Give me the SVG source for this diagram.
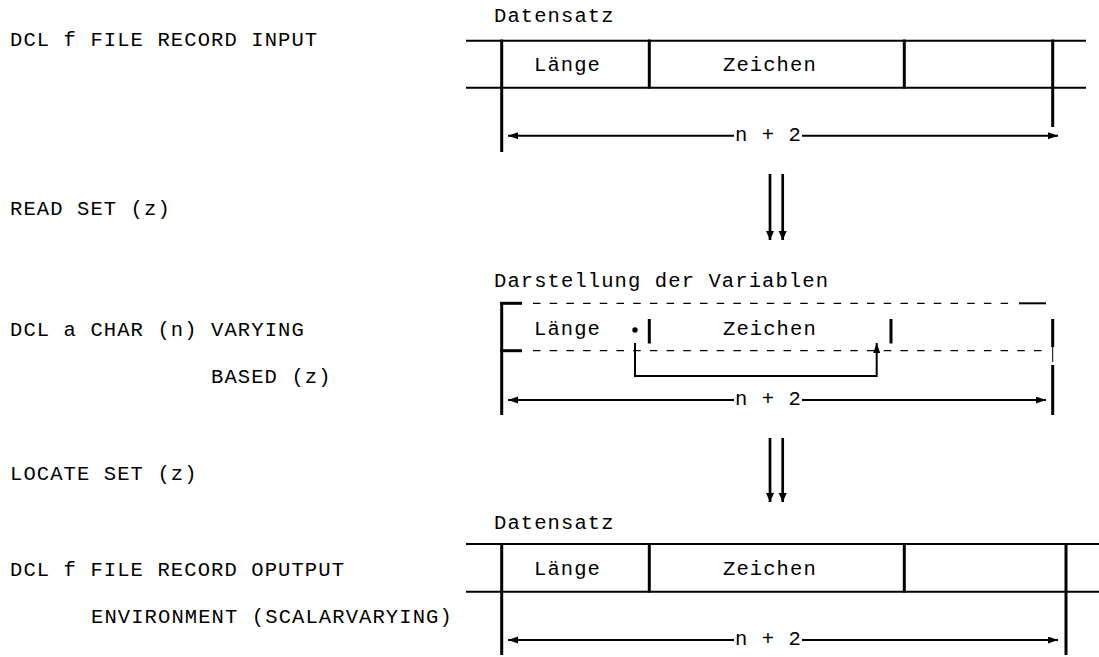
<svg xmlns="http://www.w3.org/2000/svg" width="1099" height="657" viewBox="0 0 1099 657">
<defs>
<style>
text{font-family:"Liberation Mono","Courier New",monospace;font-size:20.5px;letter-spacing:1.1px;fill:#000}
.ln{stroke:#000;stroke-width:2;fill:none}
.vb{stroke:#000;stroke-width:3;fill:none}
.ds{stroke:#000;stroke-width:1.3;fill:none;stroke-dasharray:7.5 9.2}
.ar{stroke:#000;stroke-width:2;fill:none}
.da{stroke:#000;stroke-width:2.7;fill:none}
</style>
<marker id="ah" markerUnits="userSpaceOnUse" markerWidth="11" markerHeight="8" refX="10" refY="3.5" orient="auto-start-reverse">
<path d="M0,0 L10,3.5 L0,7 Z" fill="#000"/>
</marker>
<marker id="dh" markerUnits="userSpaceOnUse" markerWidth="10" markerHeight="10" refX="9" refY="4" orient="auto">
<path d="M0,0 L9,4 L0,8 Z" fill="#000"/>
</marker>
</defs>
<rect width="1099" height="657" fill="#fff"/>

<g id="code">
<text x="10" y="46">DCL f FILE RECORD INPUT</text>
<text x="10" y="215">READ SET (z)</text>
<text x="10" y="336">DCL a CHAR (n) VARYING</text>
<text x="211" y="383">BASED (z)</text>
<text x="10" y="480">LOCATE SET (z)</text>
<text x="10" y="576">DCL f FILE RECORD OPUTPUT</text>
<text x="91" y="623">ENVIRONMENT (SCALARVARYING)</text>
</g>

<g id="record-input">
<text x="494" y="22">Datensatz</text>
<line class="ln" x1="466" y1="40.7" x2="1086" y2="40.7"/>
<line class="ln" x1="466" y1="87.7" x2="1086" y2="87.7"/>
<line class="vb" x1="501.7" y1="39.5" x2="501.7" y2="152"/>
<line class="vb" x1="649.3" y1="39.5" x2="649.3" y2="88.5"/>
<line class="vb" x1="904.3" y1="39.5" x2="904.3" y2="88.5"/>
<line class="vb" x1="1052.7" y1="39.5" x2="1052.7" y2="127"/>
<text x="534" y="71">Länge</text>
<text x="723" y="71">Zeichen</text>
<text x="735" y="140.5">n + 2</text>
</g>

<g id="variable">
<text x="494" y="287">Darstellung der Variablen</text>
<line class="vb" x1="501.7" y1="302" x2="501.7" y2="415"/>
<line class="vb" x1="500.2" y1="303.3" x2="522" y2="303.3"/>
<line class="vb" x1="500.2" y1="350.7" x2="522" y2="350.7"/>
<line class="ds" x1="533" y1="303.3" x2="1014" y2="303.3"/>
<line class="ln" x1="1019" y1="303.3" x2="1046" y2="303.3"/>
<line class="ds" x1="533" y1="350.7" x2="1050" y2="350.7"/>
<text x="534" y="335">Länge</text>
<circle cx="635" cy="330" r="2.7" fill="#000"/>
<line class="vb" x1="649.3" y1="319" x2="649.3" y2="343.5"/>
<text x="723" y="335">Zeichen</text>
<line class="vb" x1="891" y1="319" x2="891" y2="343.5"/>
<line class="vb" x1="1052.7" y1="319" x2="1052.7" y2="347"/>
<line stroke="#000" stroke-width="1" x1="1052.7" y1="347" x2="1052.7" y2="362"/>
<line class="vb" x1="1052.7" y1="365" x2="1052.7" y2="415"/>
<text x="735" y="404.7">n + 2</text>
</g>

<g id="record-output">
<text x="494" y="528.5">Datensatz</text>
<line class="ln" x1="466" y1="544" x2="1099" y2="544"/>
<line class="ln" x1="466" y1="591.7" x2="1099" y2="591.7"/>
<line class="vb" x1="501.7" y1="543" x2="501.7" y2="655"/>
<line class="vb" x1="649.3" y1="543" x2="649.3" y2="592.5"/>
<line class="vb" x1="904.3" y1="543" x2="904.3" y2="592.5"/>
<line class="vb" x1="1066" y1="543" x2="1066" y2="655"/>
<text x="534" y="575">Länge</text>
<text x="723" y="575">Zeichen</text>
<text x="735" y="644.5">n + 2</text>
</g>

<g id="connectors">
<line class="ar" x1="734" y1="135.7" x2="508" y2="135.7" marker-end="url(#ah)"/>
<line class="ar" x1="802" y1="135.7" x2="1058" y2="135.7" marker-end="url(#ah)"/>
<line class="ar" x1="734" y1="400" x2="508" y2="400" marker-end="url(#ah)"/>
<line class="ar" x1="802" y1="400" x2="1046" y2="400" marker-end="url(#ah)"/>
<line class="ar" x1="734" y1="640" x2="508" y2="640" marker-end="url(#ah)"/>
<line class="ar" x1="802" y1="640" x2="1058" y2="640" marker-end="url(#ah)"/>
<polyline class="ar" points="635,343 635,376 876.7,376 876.7,343" marker-end="url(#ah)"/>
<line class="da" x1="770" y1="174" x2="770" y2="240" marker-end="url(#dh)"/>
<line class="da" x1="782.7" y1="174" x2="782.7" y2="240" marker-end="url(#dh)"/>
<line class="da" x1="770" y1="438" x2="770" y2="502" marker-end="url(#dh)"/>
<line class="da" x1="782.7" y1="438" x2="782.7" y2="502" marker-end="url(#dh)"/>
</g>
</svg>
